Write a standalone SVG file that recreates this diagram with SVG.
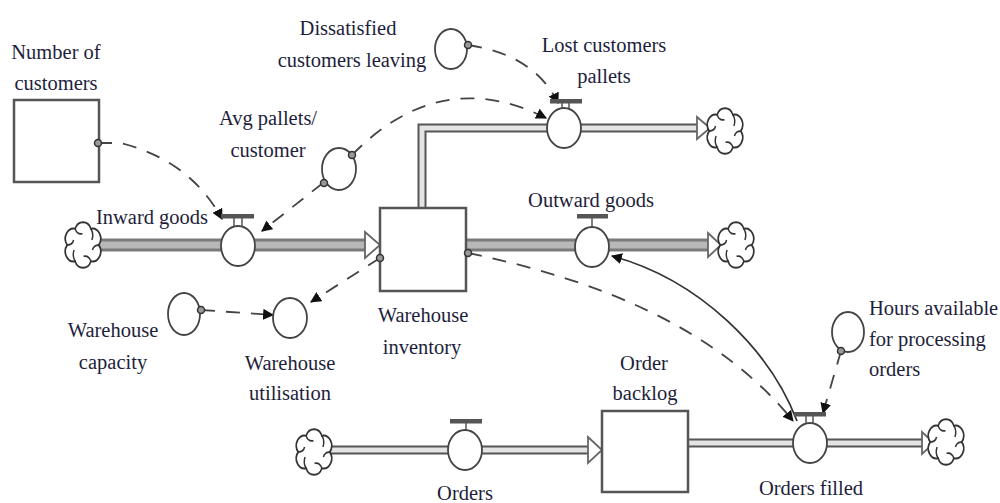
<svg xmlns="http://www.w3.org/2000/svg" width="1000" height="503" viewBox="0 0 1000 503" font-family="'Liberation Serif', 'Times New Roman', serif">
<defs>
<style>
text { font-family: 'Liberation Serif', 'Times New Roman', serif; font-size: 20.5px; fill: #1e1e3c; text-anchor: middle; }
.stock { fill: #fff; stroke: #555; stroke-width: 2.5; }
.aux { fill: #fff; stroke: #444; stroke-width: 1.8; }
.pipeO { fill: none; stroke: #7a7a7a; stroke-width: 13; }
.pipeI { fill: none; stroke: #b8b8b8; stroke-width: 7; }
.pipe2O { fill: none; stroke: #555; stroke-width: 9; stroke-linejoin: miter; }
.pipe2I { fill: none; stroke: #e4e4e4; stroke-width: 5; stroke-linejoin: miter; }
.link { fill: none; stroke: #444; stroke-width: 1.8; stroke-dasharray: 14 11; }
.solid { fill: none; stroke: #333; stroke-width: 1.8; }
.head { fill: #fff; stroke: #666; stroke-width: 1.8; }
.dot { fill: #999; stroke: #333; stroke-width: 1.5; }
.bar { fill: #555; }
.stem { stroke: #555; stroke-width: 1.5; }
.cloud { fill: #fff; stroke: #333; stroke-width: 1.6; }
.curl { fill: none; stroke: #333; stroke-width: 1.4; }
</style>
<marker id="ah" viewBox="0 0 10 10" refX="9" refY="5" markerWidth="11" markerHeight="11" markerUnits="userSpaceOnUse" orient="auto">
<path d="M0,0 L10,5 L0,10 Z" fill="#111"/>
</marker>
<g id="cloud">
<path class="cloud" d="M15,0 A8,8 0 0 1 7.5,13 A8,8 0 0 1 -7.5,13 A8,8 0 0 1 -15,0 A8,8 0 0 1 -7.5,-13 A8,8 0 0 1 7.5,-13 A8,8 0 0 1 15,0 Z"/>
<path class="curl" d="M15,0 q-5,0 -6,4 M7.5,13 q-2,-5 -7,-4 M-7.5,13 q-3,-4 -1,-9 M-15,0 q5,0 6,-4 M-7.5,-13 q2,5 7,4 M7.5,-13 q3,4 1,9"/>
</g>
</defs>

<g id="connectors">
<path class="pipeO" d="M98,245 L368,245"/>
<path class="pipeI" d="M98,245 L368,245"/>
<path class="pipeO" d="M466,245 L710,245"/>
<path class="pipeI" d="M466,245 L710,245"/>
<path class="pipe2O" d="M422,208 L422,128 L699,128"/>
<path class="pipe2I" d="M422,208 L422,128 L699,128"/>
<path class="pipe2O" d="M330,450 L590,450"/>
<path class="pipe2I" d="M330,450 L590,450"/>
<path class="pipe2O" d="M688,443 L924,443"/>
<path class="pipe2I" d="M688,443 L924,443"/>
<polygon class="head" points="365,232 380,245 365,258"/>
<polygon class="head" points="708,233 721,245 708,257"/>
<polygon class="head" points="697,117 710,128 697,139"/>
<polygon class="head" points="588,437 602,450 588,463"/>
<polygon class="head" points="922,432 934,443 922,454"/>
<path class="link" d="M98,143 L120,143 Q190,160 222,219" marker-end="url(#ah)"/>
<path class="link" d="M323,183 L262,231" marker-end="url(#ah)"/>
<path class="link" d="M352,155 Q440,65 546,118" marker-end="url(#ah)"/>
<path class="link" d="M468,45 Q535,55 558,103" marker-end="url(#ah)"/>
<path class="link" d="M201,310 L273,315" marker-end="url(#ah)"/>
<path class="link" d="M380,258 L311,302" marker-end="url(#ah)"/>
<path class="link" d="M468,253 C600,280 720,330 793,421" marker-end="url(#ah)"/>
<path class="solid" d="M797,421 C770,350 700,280 612,256" marker-end="url(#ah)"/>
<path class="link" d="M841,351 L823,413" marker-end="url(#ah)"/>
</g>

<g id="cloud-inward"><use href="#cloud" transform="translate(83,245) scale(1.05,1.25)"/></g>
<g id="cloud-outward"><use href="#cloud" transform="translate(736,245) scale(1.05,1.25)"/></g>
<g id="cloud-lost"><use href="#cloud" transform="translate(725,131) scale(1.05,1.25)"/></g>
<g id="cloud-orders"><use href="#cloud" transform="translate(314,452) scale(1.05,1.25)"/></g>
<g id="cloud-filled"><use href="#cloud" transform="translate(946,442) scale(1.05,1.25)"/></g>

<g id="number-of-customers">
<rect class="stock" x="14" y="100" width="85" height="82"/>
<circle class="dot" cx="98" cy="143" r="3.5"/>
<text x="56" y="59">Number of</text>
<text x="56" y="90">customers</text>
</g>

<g id="warehouse-inventory">
<rect class="stock" x="380" y="208" width="86" height="83"/>
<circle class="dot" cx="380" cy="258" r="3.5"/>
<circle class="dot" cx="468" cy="253" r="3.5"/>
<text x="423" y="322">Warehouse</text>
<text x="422" y="354">inventory</text>
</g>

<g id="order-backlog">
<rect class="stock" x="602" y="411" width="86" height="81"/>
<text x="644" y="370">Order</text>
<text x="645" y="400">backlog</text>
</g>

<g id="inward-goods">
<rect class="bar" x="221" y="214" width="33" height="4.5"/>
<line class="stem" x1="234" y1="218" x2="234" y2="227"/>
<line class="stem" x1="242" y1="218" x2="242" y2="227"/>
<ellipse class="aux" cx="238" cy="246" rx="17" ry="20"/>
<text x="152" y="224">Inward goods</text>
</g>

<g id="outward-goods">
<rect class="bar" x="577" y="214" width="31" height="4.5"/>
<line class="stem" x1="592" y1="218" x2="592" y2="227"/>
<ellipse class="aux" cx="592" cy="247" rx="17" ry="20"/>
<text x="591" y="207">Outward goods</text>
</g>

<g id="lost-customers-pallets">
<rect class="bar" x="550" y="99" width="32" height="4.5"/>
<line class="stem" x1="562" y1="103" x2="562" y2="109"/>
<line class="stem" x1="569" y1="103" x2="569" y2="109"/>
<ellipse class="aux" cx="564" cy="128" rx="17" ry="20"/>
<text x="604" y="52">Lost customers</text>
<text x="604" y="83">pallets</text>
</g>

<g id="orders">
<rect class="bar" x="450" y="419" width="32" height="4.5"/>
<line class="stem" x1="466" y1="423" x2="466" y2="430"/>
<ellipse class="aux" cx="465" cy="450" rx="17" ry="20"/>
<text x="465" y="500">Orders</text>
</g>

<g id="orders-filled">
<rect class="bar" x="794" y="412" width="32" height="4.5"/>
<line class="stem" x1="806" y1="416" x2="806" y2="423"/>
<line class="stem" x1="813" y1="416" x2="813" y2="423"/>
<ellipse class="aux" cx="810" cy="443" rx="17" ry="20"/>
<text x="811" y="495">Orders filled</text>
</g>

<g id="avg-pallets-customer">
<ellipse class="aux" cx="339" cy="169" rx="17" ry="21"/>
<circle class="dot" cx="352" cy="155" r="3.5"/>
<circle class="dot" cx="324" cy="183" r="3.5"/>
<text x="268" y="125">Avg pallets/</text>
<text x="268" y="157">customer</text>
</g>

<g id="dissatisfied-customers-leaving">
<ellipse class="aux" cx="451" cy="49" rx="16" ry="20"/>
<circle class="dot" cx="468" cy="45" r="3.5"/>
<text x="348" y="35">Dissatisfied</text>
<text x="352" y="67">customers leaving</text>
</g>

<g id="warehouse-capacity">
<ellipse class="aux" cx="184" cy="314" rx="16" ry="21"/>
<circle class="dot" cx="201" cy="310" r="3.5"/>
<text x="113" y="337">Warehouse</text>
<text x="113" y="369">capacity</text>
</g>

<g id="warehouse-utilisation">
<ellipse class="aux" cx="290" cy="318" rx="17" ry="20"/>
<text x="290" y="370">Warehouse</text>
<text x="290" y="400">utilisation</text>
</g>

<g id="hours-available">
<ellipse class="aux" cx="848" cy="332" rx="16" ry="20"/>
<circle class="dot" cx="841" cy="351" r="3.5"/>
<text x="869" y="315" style="text-anchor:start">Hours available</text>
<text x="869" y="346" style="text-anchor:start">for processing</text>
<text x="869" y="376" style="text-anchor:start">orders</text>
</g>
</svg>
